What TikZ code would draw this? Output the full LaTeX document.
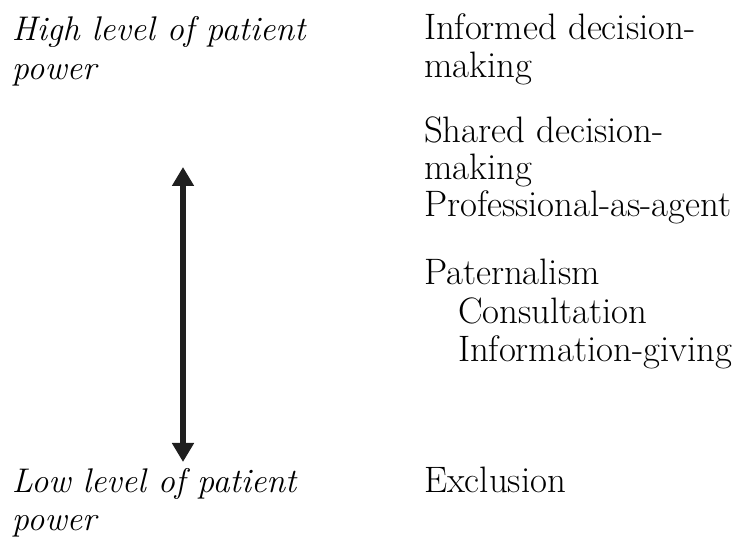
\documentclass[tikz,border=0pt]{standalone}
\usetikzlibrary{arrows.meta}
\begin{document}
\begin{tikzpicture}[x=1pt,y=-1pt,
  lbl/.style={anchor=base west,inner sep=0pt,outer sep=0pt,font=\fontsize{36.8}{37.5}\selectfont},
  ilbl/.style={lbl,font=\fontsize{34.2}{37.5}\selectfont\itshape},
  arr/.style={line width=5.5pt,draw=black!88,{Triangle[length=19pt,width=21pt]}-{Triangle[length=19pt,width=21pt]}}]
\useasboundingbox (0,0) rectangle (737,537);
% left column
\node[ilbl] (h1) at (12,41) {High level of patient};
\node[ilbl] (h2) at (12,80) {power};
\node[ilbl] (l1) at (12,493) {Low level of patient};
\node[ilbl] (l2) at (12,530) {power};
% right column
\node[lbl] (r1) at (424,40) {Informed decision-};
\node[lbl] (r2) at (424,78) {making};
\node[lbl] (r3) at (424,143) {Shared decision-};
\node[lbl] (r4) at (424,180) {making};
\node[lbl] (r5) at (424,217) {Professional-as-agent};
\node[lbl] (r6) at (424,285) {Paternalism};
\node[lbl] (r7) at (458,324) {Consultation};
\node[lbl] (r8) at (458,362) {Information-giving};
\node[lbl] (r9) at (424,493) {Exclusion};
% arrow
\coordinate (atop) at (183,167);
\coordinate (abot) at (183,462);
\draw[arr] (abot) -- (atop);
\end{tikzpicture}
\end{document}
